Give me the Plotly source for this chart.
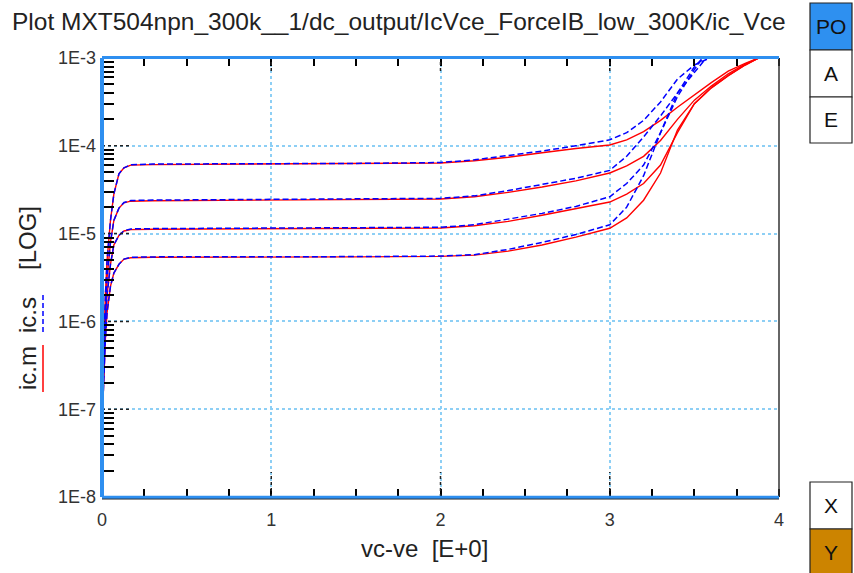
import plotly.graph_objects as go

# ---------------- data ----------------
vce_m = [0, 0.01, 0.02, 0.03, 0.05, 0.07, 0.10, 0.13, 0.17, 0.30, 1.0, 1.5, 2.0,
         2.2, 2.4, 2.6, 2.8, 3.0, 3.1, 3.2, 3.3, 3.4, 3.5, 3.6, 3.7, 3.8, 3.88]

ic_m1 = [7.9e-8, 5.0e-7, 2.0e-6, 5.0e-6, 1.41e-5, 2.82e-5, 4.79e-5, 5.62e-5, 6.03e-5, 6.1e-5,
         6.17e-5, 6.24e-5, 6.38e-5, 6.76e-5, 7.41e-5, 8.32e-5, 9.33e-5, 1.02e-4, 1.17e-4,
         1.45e-4, 1.95e-4, 2.75e-4, 3.8e-4, 5.25e-4, 7.08e-4, 8.7e-4, 1.0e-3]
ic_m2 = [7.9e-8, 3.98e-7, 1.26e-6, 3.16e-6, 7.94e-6, 1.41e-5, 1.95e-5, 2.24e-5, 2.34e-5, 2.37e-5,
         2.40e-5, 2.43e-5, 2.48e-5, 2.63e-5, 2.95e-5, 3.39e-5, 3.98e-5, 4.9e-5, 5.89e-5,
         7.59e-5, 1.15e-4, 2.0e-4, 3.31e-4, 4.79e-4, 6.61e-4, 8.51e-4, 1.0e-3]
ic_m3 = [7.08e-8, 3.16e-7, 1.0e-6, 2.0e-6, 4.47e-6, 7.41e-6, 9.55e-6, 1.07e-5, 1.11e-5, 1.12e-5,
         1.14e-5, 1.15e-5, 1.16e-5, 1.23e-5, 1.38e-5, 1.62e-5, 1.91e-5, 2.29e-5, 2.82e-5,
         3.72e-5, 6.03e-5, 1.41e-4, 3.02e-4, 4.57e-4, 6.31e-4, 8.32e-4, 1.0e-3]
ic_m4 = [6.31e-8, 2.51e-7, 6.31e-7, 1.26e-6, 2.51e-6, 3.55e-6, 4.47e-6, 5.13e-6, 5.31e-6, 5.37e-6,
         5.37e-6, 5.43e-6, 5.5e-6, 5.69e-6, 6.31e-6, 7.41e-6, 9.12e-6, 1.15e-5, 1.51e-5,
         2.4e-5, 4.9e-5, 1.51e-4, 3.02e-4, 4.57e-4, 6.31e-4, 8.32e-4, 1.0e-3]

vce_s1 = [0, 0.01, 0.02, 0.03, 0.05, 0.07, 0.10, 0.13, 0.17, 0.30, 1.0, 1.5, 2.0,
          2.2, 2.4, 2.6, 2.8, 3.0, 3.1, 3.2, 3.3, 3.4, 3.5, 3.59]
vce_s2 = [0, 0.01, 0.02, 0.03, 0.05, 0.07, 0.10, 0.13, 0.17, 0.30, 1.0, 1.5, 2.0,
          2.2, 2.4, 2.6, 2.8, 3.0, 3.1, 3.2, 3.3, 3.4, 3.5, 3.57]
vce_s3 = [0, 0.01, 0.02, 0.03, 0.05, 0.07, 0.10, 0.13, 0.17, 0.30, 1.0, 1.5, 2.0,
          2.2, 2.4, 2.6, 2.8, 3.0, 3.1, 3.2, 3.3, 3.4, 3.5, 3.55]
vce_s4 = [0, 0.01, 0.02, 0.03, 0.05, 0.07, 0.10, 0.13, 0.17, 0.30, 1.0, 1.5, 2.0,
          2.2, 2.4, 2.6, 2.8, 3.0, 3.1, 3.2, 3.3, 3.4, 3.5, 3.55]

ic_s1 = [7.9e-8, 5.0e-7, 2.0e-6, 5.0e-6, 1.41e-5, 2.82e-5, 4.79e-5, 5.62e-5, 6.1e-5, 6.2e-5,
         6.25e-5, 6.3e-5, 6.45e-5, 6.92e-5, 7.76e-5, 8.71e-5, 1.0e-4, 1.17e-4, 1.41e-4,
         1.95e-4, 3.16e-4, 5.75e-4, 8.32e-4, 1.0e-3]
ic_s2 = [7.9e-8, 3.98e-7, 1.26e-6, 3.16e-6, 7.94e-6, 1.41e-5, 1.95e-5, 2.26e-5, 2.38e-5, 2.41e-5,
         2.44e-5, 2.47e-5, 2.52e-5, 2.69e-5, 3.09e-5, 3.63e-5, 4.27e-5, 5.25e-5, 7.59e-5,
         1.26e-4, 2.19e-4, 3.98e-4, 6.92e-4, 1.0e-3]
ic_s3 = [7.08e-8, 3.16e-7, 1.0e-6, 2.0e-6, 4.47e-6, 7.41e-6, 9.55e-6, 1.08e-5, 1.13e-5, 1.14e-5,
         1.15e-5, 1.16e-5, 1.18e-5, 1.26e-5, 1.45e-5, 1.70e-5, 2.04e-5, 2.63e-5, 3.72e-5,
         6.03e-5, 1.41e-4, 3.63e-4, 7.41e-4, 1.0e-3]
ic_s4 = [6.31e-8, 2.51e-7, 6.31e-7, 1.26e-6, 2.51e-6, 3.55e-6, 4.47e-6, 5.13e-6, 5.37e-6, 5.43e-6,
         5.43e-6, 5.47e-6, 5.55e-6, 5.75e-6, 6.61e-6, 7.94e-6, 9.77e-6, 1.26e-5, 2.0e-5,
         4.57e-5, 1.41e-4, 3.98e-4, 7.94e-4, 1.0e-3]

y_tickvals = [1e-8, 1e-7, 1e-6, 1e-5, 1e-4, 1e-3]
y_ticktext = ["1E-8", "1E-7", "1E-6", "1E-5", "1E-4", "1E-3"]
x_tickvals = [0, 1, 2, 3, 4]
x_ticktext = ["0", "1", "2", "3", "4"]

title_text = "Plot MXT504npn_300k__1/dc_output/IcVce_ForceIB_low_300K/ic_Vce"
x_title = "vc-ve  [E+0]"

# ---------------- layout geometry ----------------
W, H = 854, 573
L, R, T, B = 102, 779, 58, 497
PW, PH = R - L, B - T


def px_x(p):
    return (p - L) / PW


def px_y(p):
    return (B - p) / PH


FONT = "Liberation Sans, Arial, Helvetica, sans-serif"
RED = "#FF0000"
BLUE = "#0000FF"
FRAME_BLUE = "#2E8FF0"
GRID = "#8DCFF5"

fig = go.Figure()

for xs, ys in [(vce_m, ic_m1), (vce_m, ic_m2), (vce_m, ic_m3), (vce_m, ic_m4)]:
    fig.add_trace(go.Scatter(x=xs, y=ys, mode="lines", line=dict(color=RED, width=1.4),
                             showlegend=False, hoverinfo="skip"))
for xs, ys in [(vce_s1, ic_s1), (vce_s2, ic_s2), (vce_s3, ic_s3), (vce_s4, ic_s4)]:
    fig.add_trace(go.Scatter(x=xs, y=ys, mode="lines",
                             line=dict(color=BLUE, width=1.5, dash="6px,3px"),
                             showlegend=False, hoverinfo="skip"))

minor_y = [k * 10 ** e for e in range(-8, -3) for k in range(2, 10)]

fig.update_layout(
    width=W, height=H,
    margin=dict(l=L, r=W - R, t=T, b=H - B, pad=0),
    paper_bgcolor="white", plot_bgcolor="white",
    font=dict(family=FONT, size=18, color="#333333"),
    title=dict(text=title_text, x=12 / W, xanchor="left", xref="container",
               y=1 - 21 / H, yanchor="middle", yref="container",
               font=dict(family=FONT, size=24.5, color="#222222")),
    xaxis=dict(range=[0, 4], tickmode="array", tickvals=x_tickvals, ticktext=x_ticktext,
               ticks="", showline=True, linecolor=FRAME_BLUE, linewidth=2,
               zeroline=False, mirror="ticks",
               showgrid=True, gridcolor=GRID, griddash="dot", gridwidth=1.5,
               ticklabelstandoff=5,
               tickfont=dict(size=18, color="#333333"),
               minor=dict(dtick=0.25, ticks="inside", ticklen=8, tickwidth=1.5,
                          tickcolor="black", showgrid=False)),
    yaxis=dict(type="log", range=[-8, -3], tickmode="array", tickvals=y_tickvals,
               ticktext=y_ticktext, ticks="", showline=False, zeroline=False,
               showgrid=True, gridcolor=GRID, griddash="dot", gridwidth=1.5,
               ticklabelstandoff=5,
               tickfont=dict(size=18, color="#333333"),
               minor=dict(tickmode="array", tickvals=minor_y, ticks="inside", ticklen=12,
                          tickwidth=1.5, tickcolor="black", showgrid=False)),
)

shapes = []
# black dotted stubs at the major grid positions, next to the axes
for v in y_tickvals[1:-1]:
    shapes.append(dict(type="line", xref="paper", yref="y", x0=0, x1=28 / PW,
                       y0=v, y1=v, line=dict(color="#222222", width=1.5, dash="dot")))
for v in x_tickvals[1:-1]:
    shapes.append(dict(type="line", xref="x", yref="paper", x0=v, x1=v,
                       y0=0, y1=25 / PH, line=dict(color="#222222", width=1.5, dash="dot")))
    shapes.append(dict(type="line", xref="x", yref="paper", x0=v, x1=v,
                       y0=1 - 13 / PH, y1=1, line=dict(color="#222222", width=1.5, dash="dot")))

# frame
shapes.append(dict(type="line", xref="paper", yref="paper", x0=1, x1=1, y0=0, y1=1,
                   line=dict(color="#333333", width=1.5), layer="above"))
shapes.append(dict(type="line", xref="paper", yref="paper", x0=0, x1=1, y0=px_y(499), y1=px_y(499),
                   line=dict(color="#222222", width=1.2), layer="above"))
shapes.append(dict(type="line", xref="paper", yref="paper", x0=0, x1=1, y0=0, y1=0,
                   line=dict(color=FRAME_BLUE, width=2.5), layer="above"))
shapes.append(dict(type="line", xref="paper", yref="paper", x0=0, x1=1, y0=1, y1=1,
                   line=dict(color=FRAME_BLUE, width=2), layer="above"))
shapes.append(dict(type="line", xref="paper", yref="paper", x0=0, x1=0, y0=0, y1=1,
                   line=dict(color=FRAME_BLUE, width=4), layer="above"))

# y-title legend glyphs
shapes.append(dict(type="line", xref="paper", yref="paper", x0=px_x(43), x1=px_x(43),
                   y0=px_y(345), y1=px_y(392), line=dict(color=RED, width=1.5)))
shapes.append(dict(type="line", xref="paper", yref="paper", x0=px_x(43), x1=px_x(43),
                   y0=px_y(295), y1=px_y(332), line=dict(color=BLUE, width=1.5, dash="5px,3px")))

annotations = []
# rotated y-axis title parts
for txt, cy in [("ic.m", 368), ("ic.s", 315), ("[LOG]", 238)]:
    annotations.append(dict(text=txt, xref="paper", yref="paper", x=px_x(27), y=px_y(cy),
                            xanchor="center", yanchor="middle", textangle=-90, showarrow=False,
                            font=dict(family=FONT, size=24, color="#222222")))
annotations.append(dict(text=x_title, xref="paper", yref="paper", x=px_x(424), y=px_y(548),
                        xanchor="center", yanchor="middle", showarrow=False,
                        font=dict(family=FONT, size=24, color="#222222")))

# side buttons
buttons = [("PO", 3, 50, "#2E90F0"), ("A", 50, 97, "white"), ("E", 97, 143, "white"),
           ("X", 482, 529, "white"), ("Y", 529, 575, "#CC8400")]
for label, y0, y1, fill in buttons:
    shapes.append(dict(type="rect", xref="paper", yref="paper", x0=px_x(810), x1=px_x(852),
                       y0=px_y(y1), y1=px_y(y0), fillcolor=fill,
                       line=dict(color="#222222", width=1.2), layer="above"))
    annotations.append(dict(text=label, xref="paper", yref="paper", x=px_x(831),
                            y=px_y((y0 + y1) / 2), xanchor="center", yanchor="middle",
                            showarrow=False, font=dict(family=FONT, size=21, color="#111111")))

fig.update_layout(shapes=shapes, annotations=annotations)

fig.write_html("out.html")
